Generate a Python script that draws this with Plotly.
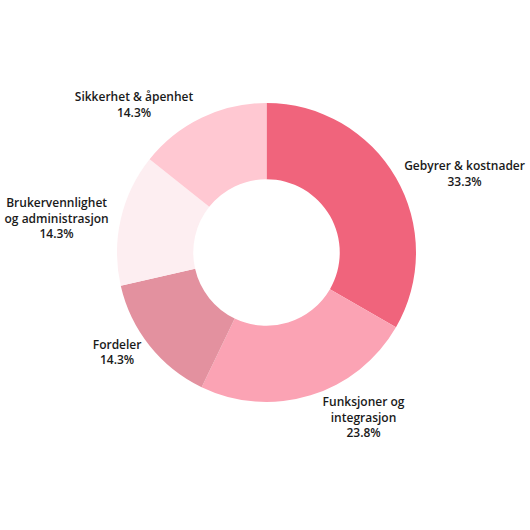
import plotly.graph_objects as go

categories = ["Gebyrer & kostnader", "Funksjoner og<br>integrasjon", "Fordeler",
              "Brukervennlighet<br>og administrasjon", "Sikkerhet & åpenhet"]
values = [7, 5, 3, 3, 3]
colors = ["#F0647C", "#FBA3B4", "#E3919F", "#FDEEF1", "#FFC8D2"]

fig = go.Figure(go.Pie(
    labels=categories,
    values=values,
    hole=0.49,
    sort=False,
    direction="clockwise",
    rotation=0,
    marker=dict(colors=colors, line=dict(width=0)),
    textinfo="label+percent",
    texttemplate="%{label}<br>%{percent:.1%}",
    textposition="outside",
    outsidetextfont=dict(family="Open Sans", size=12, color="#1a1a1a", weight=600),
    showlegend=False,
    hoverinfo="label+percent",
))
fig.update_layout(
    width=530, height=530,
    margin=dict(l=0, r=0, t=13, b=27),
    paper_bgcolor="white",
    plot_bgcolor="white",
)
fig.write_html(
    "out.html",
    config={"displayModeBar": False},
    post_script="document.body.style.margin='0';document.body.style.overflow='hidden';",
)
